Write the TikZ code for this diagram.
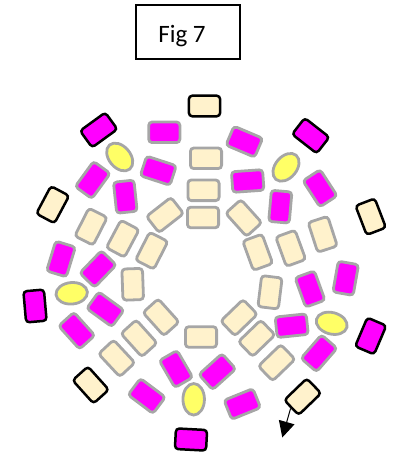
\documentclass[tikz,border=0pt]{standalone}
\usepackage{fontspec}
\setmainfont{Carlito}
\usetikzlibrary{arrows.meta,shapes.geometric}
\definecolor{creamfill}{HTML}{FFF2CC}
\definecolor{magfill}{HTML}{FF00FF}
\definecolor{yelfill}{HTML}{FFFF66}
\definecolor{grayline}{HTML}{A6A6A6}
\tikzset{
  cell/.style={rectangle,rounded corners=3.4pt,minimum width=31.2pt,minimum height=20.6pt,inner sep=0pt,line width=2.8pt},
  mag/.style={cell,draw=grayline,fill=magfill},
  crm/.style={cell,draw=grayline,fill=creamfill},
  bmag/.style={cell,draw=black,fill=magfill,line width=2.5pt},
  bcrm/.style={cell,draw=black,fill=creamfill,line width=2.5pt},
  yel/.style={ellipse,draw=grayline,fill=yelfill,line width=2.8pt,minimum width=31.5pt,minimum height=21.5pt,inner sep=0pt},
  figbox/.style={rectangle,draw=black,line width=1.3pt,minimum width=104pt,minimum height=54pt,font=\fontsize{25pt}{28pt}\selectfont},
  flow/.style={draw=black,line width=1pt,-{Triangle[length=16pt,width=16pt]}}
}
\begin{document}
\begin{tikzpicture}[x=1pt,y=-1pt]
\useasboundingbox (0,0) rectangle (395,454);
\node[figbox] (title) at (188,32) {\hspace*{-12pt}\raisebox{-4pt}[\height][\depth]{Fig 7}};
% black-outlined ring
\node[bcrm] (b1) at (204.5,106) {};
\node[bmag,rotate=36] (b2) at (98.7,130) {};
\node[bmag,rotate=-38] (b3) at (310.7,135.7) {};
\node[bcrm,rotate=62] (b4) at (52.7,204.7) {};
\node[bcrm,rotate=-69] (b5) at (370.7,216.7) {};
\node[bmag,rotate=95] (b6) at (35,306) {};
\node[bmag,rotate=67] (b7) at (370.7,336) {};
\node[bcrm,rotate=-48] (b8) at (90.7,385) {};
\node[bcrm,rotate=44] (b9) at (302.7,396.7) {};
\node[bmag,rotate=-3] (b10) at (191,439.5) {};
% magenta
\node[mag] (m1) at (164.3,132.3) {};
\node[mag,rotate=-18] (m2) at (158.3,170.7) {};
\node[mag,rotate=54] (m3) at (92.7,180) {};
\node[mag,rotate=96] (m4) at (125.3,196.7) {};
\node[mag,rotate=73] (m5) at (61,259) {};
\node[mag,rotate=46] (m6) at (98,269) {};
\node[mag,rotate=-36] (m7) at (105.3,309.3) {};
\node[mag,rotate=-48] (m8) at (76.7,330.7) {};
\node[mag,rotate=-60] (m9) at (176,369) {};
\node[mag,rotate=-37] (m10) at (146.7,396) {};
\node[mag,rotate=42] (m11) at (217.3,371.7) {};
\node[mag,rotate=22] (m12) at (242.3,404) {};
\node[mag,rotate=49] (m13) at (319,353.3) {};
\node[mag,rotate=6] (m14) at (291.7,325.7) {};
\node[mag,rotate=-70] (m15) at (310,289) {};
\node[mag,rotate=80] (m16) at (345.7,278.3) {};
\node[mag,rotate=-23] (m17) at (244.3,141.7) {};
\node[mag,rotate=4] (m18) at (247.7,181) {};
\node[mag,rotate=85] (m19) at (280.3,206.7) {};
\node[mag,rotate=-57] (m20) at (320,188.3) {};
% cream
\node[crm] (c1) at (206,158.3) {};
\node[crm] (c2) at (203.5,190.3) {};
\node[crm] (c3) at (203,217.5) {};
\node[crm,rotate=38] (c4) at (165,215) {};
\node[crm,rotate=63] (c5) at (151.7,250.7) {};
\node[crm,rotate=62] (c6) at (122.7,238.7) {};
\node[crm,rotate=63] (c7) at (91,226.7) {};
\node[crm,rotate=-48] (c8) at (243.7,218) {};
\node[crm,rotate=-70] (c9) at (257.7,252.3) {};
\node[crm,rotate=-70] (c10) at (290.7,248.3) {};
\node[crm,rotate=-72] (c11) at (322.7,234.3) {};
\node[crm,rotate=-88] (c12) at (132.7,284.3) {};
\node[crm,rotate=-48] (c13) at (161,317.3) {};
\node[crm,rotate=-48] (c14) at (139,338.3) {};
\node[crm,rotate=-47] (c15) at (116.7,358.3) {};
\node[crm] (c16) at (201,337) {};
\node[crm,rotate=44] (c17) at (239,317.7) {};
\node[crm,rotate=44] (c18) at (256.7,338.3) {};
\node[crm,rotate=44] (c19) at (276.7,362.7) {};
\node[crm,rotate=83] (c20) at (270,292.3) {};
% yellow
\node[yel,rotate=-50] (y1) at (119.7,157) {};
\node[yel,rotate=50] (y2) at (286,167.3) {};
\node[yel,rotate=5] (y3) at (71.7,293.3) {};
\node[yel,rotate=-15] (y4) at (331.7,323.3) {};
\node[yel,rotate=90] (y5) at (193.7,399.3) {};
% arrow
\coordinate (tip) at (282.3,437.5);
\draw[flow] (b9.west) -- (tip);
\end{tikzpicture}
\end{document}
